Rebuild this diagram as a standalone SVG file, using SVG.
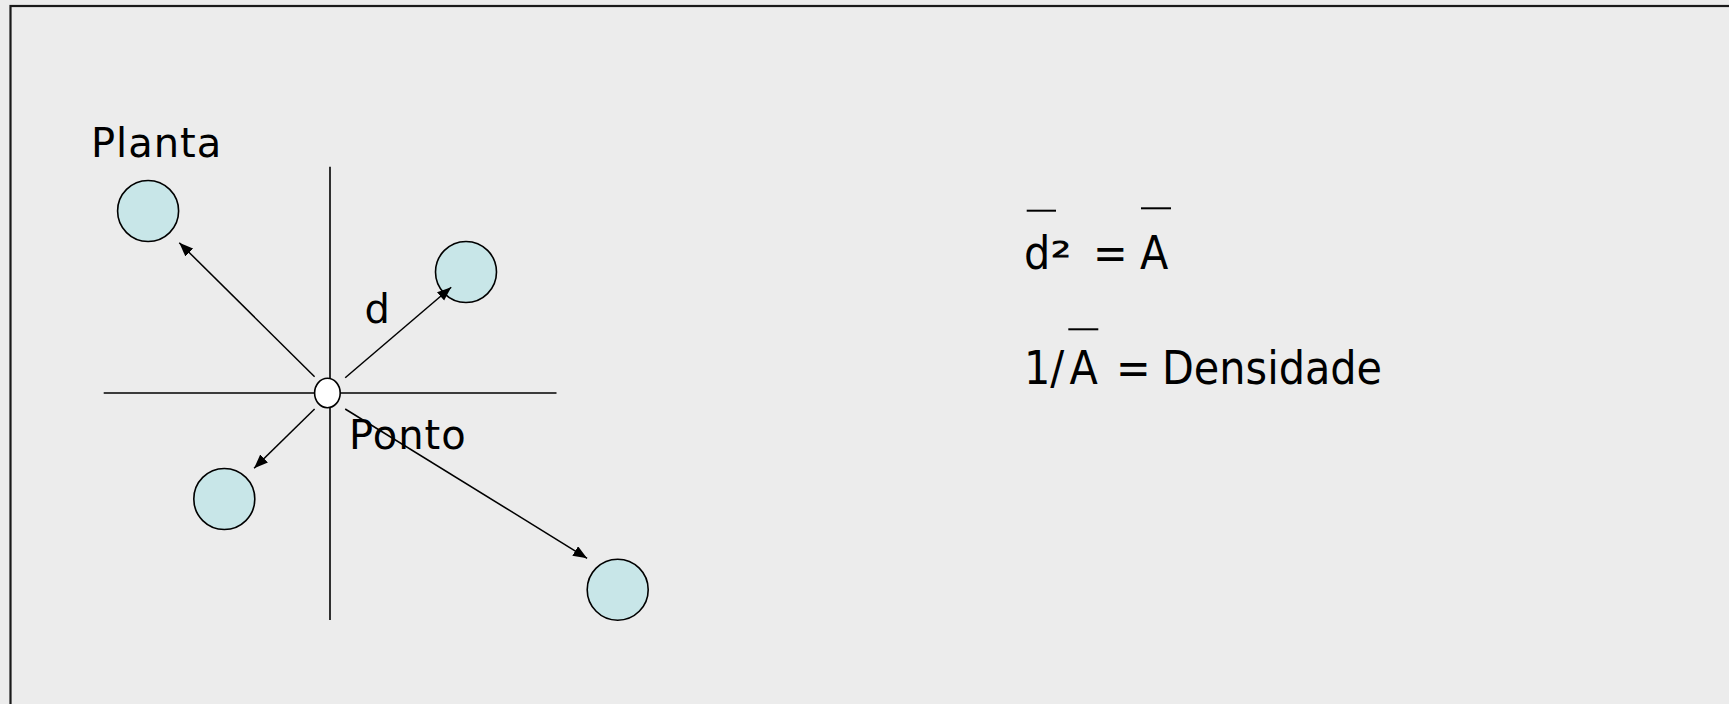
<svg xmlns="http://www.w3.org/2000/svg" width="1729" height="704" viewBox="0 0 1729 704">
<defs>
<style>
.plant{fill:#c8e6e8;stroke:#000;stroke-width:1.6}
.axis{stroke:#000;stroke-width:1.6;fill:none}
.arr{stroke:#000;stroke-width:1.5;fill:none;marker-end:url(#ah)}
.lbl{font-family:"DejaVu Sans","Verdana",sans-serif;font-size:40px;letter-spacing:1px;fill:#000}
.eq{font-family:"DejaVu Sans Condensed","DejaVu Sans",sans-serif;font-size:46px;fill:#000}
.sup{font-family:"DejaVu Sans",sans-serif;font-size:22px;fill:#000;stroke:#000;stroke-width:0.8}
.bar{stroke:#000;stroke-width:2}
</style>
<marker id="ah" markerUnits="userSpaceOnUse" markerWidth="15" markerHeight="12" refX="14" refY="5.5" orient="auto">
<path d="M0,0 L14,5.5 L0,11 z" fill="#000"/>
</marker>
</defs>
<rect x="0" y="0" width="1729" height="704" fill="#ececec"/>
<rect x="10.5" y="6" width="1800" height="800" fill="none" stroke="#1a1a1a" stroke-width="2.2"/>
<g id="axes">
<line class="axis" x1="330" y1="166.7" x2="330" y2="620"/>
<line class="axis" x1="103.7" y1="393" x2="556.5" y2="393"/>
</g>
<g id="plant-nw"><circle class="plant" cx="148.1" cy="211" r="30.5"/></g>
<g id="plant-ne"><circle class="plant" cx="466" cy="272" r="30.5"/></g>
<g id="plant-sw"><circle class="plant" cx="224.3" cy="499" r="30.5"/></g>
<g id="plant-se"><circle class="plant" cx="617.7" cy="589.7" r="30.5"/></g>
<g id="ponto"><ellipse cx="327.4" cy="393" rx="12.8" ry="14.7" fill="#fff" stroke="#000" stroke-width="1.6"/></g>
<g id="connectors">
<line class="arr" x1="314.6" y1="376.7" x2="179.3" y2="242.7"/>
<line class="arr" x1="345.2" y1="377.7" x2="451.2" y2="287.3"/>
<line class="arr" x1="314.6" y1="409" x2="254.1" y2="468.3"/>
<line class="arr" x1="345.2" y1="409" x2="587.1" y2="558.3"/>
</g>
<g id="labels">
<text class="lbl" x="91" y="157.3">Planta</text>
<text class="lbl" x="364.5" y="323.3">d</text>
<text class="lbl" x="349" y="449.3">Ponto</text>
</g>
<g id="equation1">
<text class="eq" y="269"><tspan x="1024">d</tspan><tspan x="1093">=</tspan><tspan x="1140">A</tspan></text>
<text class="sup" x="1051" y="257" textLength="20" lengthAdjust="spacingAndGlyphs">2</text>
<line class="bar" x1="1026.7" y1="210.7" x2="1056" y2="210.7"/>
<line class="bar" x1="1141" y1="208.3" x2="1171" y2="208.3"/>
</g>
<g id="equation2">
<text class="eq" y="384.3"><tspan x="1024">1/</tspan><tspan x="1069.5">A</tspan><tspan x="1116">=</tspan><tspan x="1162">Densidade</tspan></text>
<line class="bar" x1="1068.3" y1="329.3" x2="1098.3" y2="329.3"/>
</g>
</svg>
